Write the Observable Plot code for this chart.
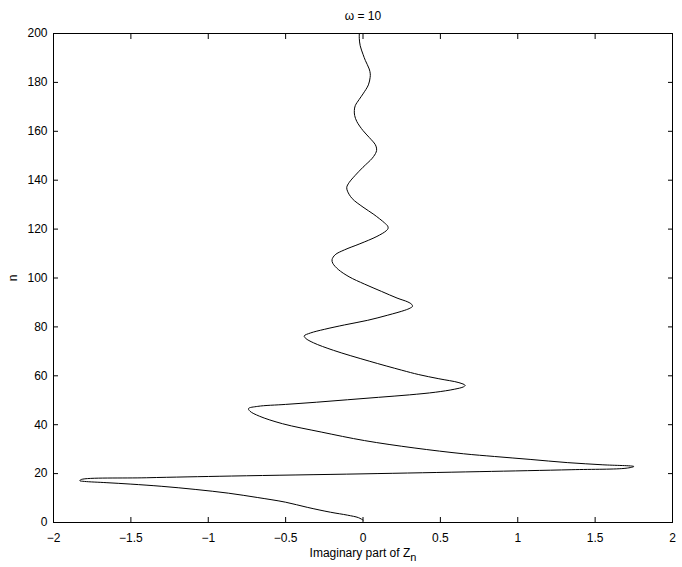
<!DOCTYPE html>
<html><head><meta charset="utf-8">
<script src="https://cdn.jsdelivr.net/npm/d3@7"></script>
<script src="https://cdn.jsdelivr.net/npm/@observablehq/plot@0.6"></script>
<style>body{margin:0;background:#fff}</style>
</head><body><div id="chart"></div>
<script>
// n (vertical) and Im(Z_n) (horizontal)
const nValues = [1.0, 2, 3, 4.2, 6.2, 8.3, 10.2, 12, 13.5, 14.8, 15.7, 16.3, 16.8, 17.1, 17.6, 18.3, 19.0, 19.9, 20.8, 21.6, 22.2, 22.9, 23.6, 24.5, 25.8, 27, 28.1, 30.5, 33.5, 37, 40.4, 43.5, 45.5, 46.6, 47.5, 48.3, 49.2, 50.2, 51.2, 52.2, 53.3, 54.5, 55.5, 56.1, 57.2, 58.8, 60.5, 62.3, 66, 70.4, 73.5, 75.3, 76.3, 77.5, 79, 80.8, 82.7, 84.8, 86.8, 87.7, 88.4, 89.2, 90.2, 91.8, 94.5, 97.5, 100.5, 103.5, 106, 107.5, 109.5, 111.5, 114, 117, 119.3, 120.3, 121.2, 122.5, 126, 129, 132.5, 135.5, 137.1, 139, 142, 145.3, 149, 151.5, 152.8, 154.5, 157.5, 160.3, 164, 166.5, 168.5, 170.5, 173, 175.3, 179, 182, 183.5, 185.5, 189, 191.5, 195, 198, 200];
const imagValues = [0.00, -0.03, -0.10, -0.21, -0.36, -0.50, -0.68, -0.87, -1.08, -1.30, -1.50, -1.66, -1.80, -1.83, -1.82, -1.40, -0.85, 0.0, 0.75, 1.35, 1.70, 1.75, 1.55, 1.32, 1.08, 0.85, 0.65, 0.33, 0.01, -0.27, -0.52, -0.67, -0.73, -0.74, -0.68, -0.50, -0.30, -0.10, 0.10, 0.30, 0.47, 0.59, 0.65, 0.66, 0.62, 0.49, 0.36, 0.25, 0.04, -0.19, -0.32, -0.37, -0.38, -0.34, -0.25, -0.12, 0.03, 0.16, 0.27, 0.305, 0.32, 0.315, 0.29, 0.22, 0.12, 0.01, -0.09, -0.16, -0.195, -0.20, -0.18, -0.12, -0.02, 0.09, 0.15, 0.162, 0.16, 0.14, 0.07, 0.0, -0.07, -0.10, -0.105, -0.09, -0.05, 0.0, 0.06, 0.085, 0.088, 0.08, 0.04, 0.0, -0.04, -0.054, -0.056, -0.05, -0.025, 0.0, 0.035, 0.046, 0.047, 0.04, 0.015, 0.0, -0.018, -0.024, -0.024];
const xTicks = [-2, -1.5, -1, -0.5, 0, 0.5, 1, 1.5, 2];
const yTicks = [0, 20, 40, 60, 80, 100, 120, 140, 160, 180, 200];
const titleText = "ω = 10";
const xLabel = "Imaginary part of Z";
const xLabelSub = "n";
const yLabel = "n";

const data = nValues.map((n, i) => ({n, im: imagValues[i]}));
const fmt = d => (d < 0 ? "\u2212" : "") + String(Math.abs(d));
const blank = () => "";
const tk = 5;

const chart = Plot.plot({
  width: 682, height: 567,
  marginLeft: 53, marginRight: 10, marginTop: 33, marginBottom: 45,
  style: {fontFamily: "'Liberation Sans', Arial, sans-serif", fontSize: "12px", background: "#fff", color: "#000"},
  x: {domain: [-2, 2]},
  y: {domain: [0, 200]},
  marks: [
    // labels
    Plot.axisX(xTicks, {anchor: "bottom", tickSize: 0, tickPadding: 11, tickFormat: fmt, label: xLabel, labelAnchor: "center", labelArrow: "none", labelOffset: 34}),
    Plot.axisY(yTicks, {anchor: "left", tickSize: 0, tickPadding: 6, tickFormat: fmt, label: yLabel, labelAnchor: "center", labelArrow: "none", labelOffset: 45}),
    // inward ticks on all four sides (axis ticks shifted inside the frame)
    Plot.axisX(xTicks, {anchor: "bottom", tickSize: tk, dy: -tk, tickFormat: blank, label: null, stroke: "#000"}),
    Plot.axisX(xTicks, {anchor: "top", tickSize: tk, dy: tk, tickFormat: blank, label: null, stroke: "#000"}),
    Plot.axisY(yTicks, {anchor: "left", tickSize: tk, dx: tk, tickFormat: blank, label: null, stroke: "#000"}),
    Plot.axisY(yTicks, {anchor: "right", tickSize: tk, dx: -tk, tickFormat: blank, label: null, stroke: "#000"}),
    Plot.frame({stroke: "#000", strokeWidth: 1}),
    Plot.line(data, {x: "im", y: "n", stroke: "#000", strokeWidth: 1, curve: "catmull-rom"}),
    Plot.text([titleText], {frameAnchor: "top", dy: -22, fontSize: 12})
  ]
});
document.getElementById("chart").append(chart);
// subscript n on the x label
d3.select(chart).selectAll("g[aria-label='x-axis label'] text").each(function() {
  d3.select(this).append("tspan").attr("dy", "0.45em").attr("font-size", "11px").text(xLabelSub);
});
</script>
</body></html>
